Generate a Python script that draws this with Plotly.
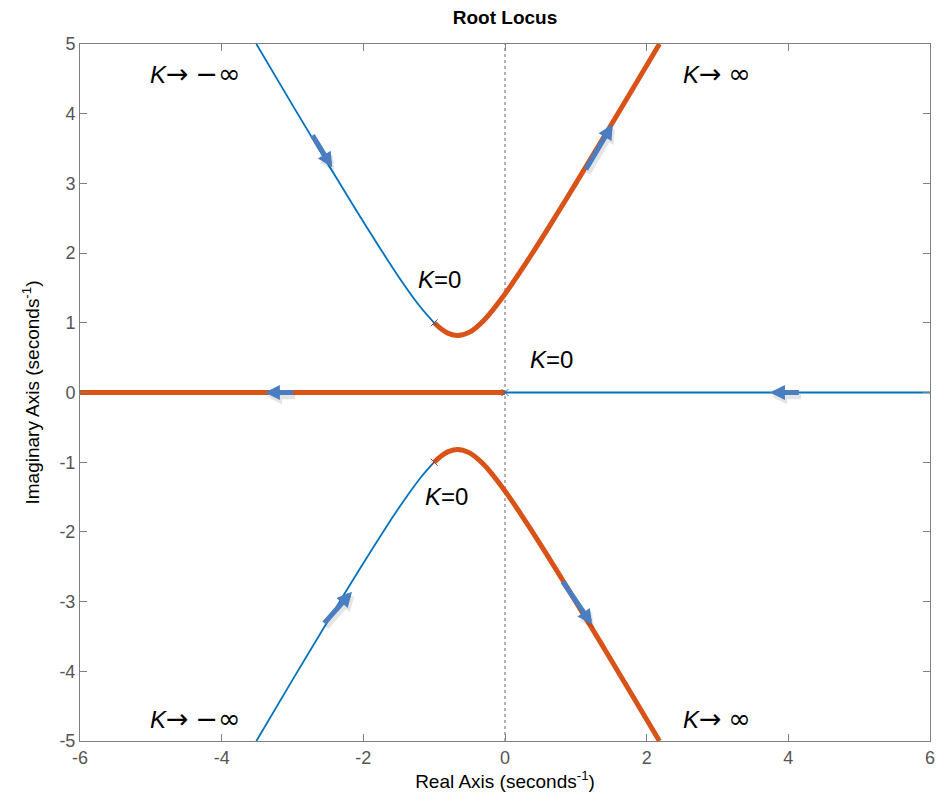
import plotly.graph_objects as go

# Upper complex branch, K>0 (orange)
pos_up_x = [-1.0, -0.9, -0.8, -0.67, -0.5, -0.3, 0.0, 0.3, 0.6, 1.0, 1.4, 1.8, 2.18]
pos_up_y = [1.0, 0.911, 0.849, 0.816, 0.866, 1.034, 1.414, 1.863, 2.341, 3.0, 3.672, 4.35, 5.0]
# Upper complex branch, K<0 (blue)
neg_up_x = [-1.0, -1.2, -1.5, -2.0, -2.5, -3.0, -3.51]
neg_up_y = [1.0, 1.233, 1.658, 2.449, 3.279, 4.123, 5.0]
# Real-axis branches
pos_real_x = [0.0, -6.0]
neg_real_x = [0.0, 6.0]
# Open-loop poles
pole_x = [-1.0, 0.0, -1.0]
pole_y = [1.0, 0.0, -1.0]

# Direction arrows (tail -> head)
arrows = [
    ((-2.73, 3.71), (-2.44, 3.23)),
    ((1.13, 3.18), (1.52, 3.85)),
    ((-2.97, 0.0), (-3.39, 0.0)),
    ((4.17, 0.0), (3.74, 0.0)),
    ((-2.57, -3.33), (-2.16, -2.86)),
    ((0.80, -2.69), (1.23, -3.33)),
]

SYM = '<span style="font-family:DejaVu Sans;font-size:27px">{}</span>'
ARW = SYM.format("\u2192")
NINF = SYM.format("\u2212\u221e")
PINF = SYM.format("\u221e")
# Labels
labels = [
    (-4.37, 4.57, "<i>K</i>" + ARW + " " + NINF),
    (2.99, 4.57, "<i>K</i>" + ARW + " " + PINF),
    (-4.37, -4.67, "<i>K</i>" + ARW + " " + NINF),
    (2.99, -4.67, "<i>K</i>" + ARW + " " + PINF),
    (-0.92, 1.62, "<i>K</i>=0"),
    (0.66, 0.47, "<i>K</i>=0"),
    (-0.82, -1.49, "<i>K</i>=0"),
]

BLUE = "#0072BD"
ORANGE = "#D95319"

fig = go.Figure()

# zero line (dotted)
fig.add_trace(go.Scatter(x=[0, 0], y=[-5, 5], mode="lines",
                         line=dict(color="#666666", width=1, dash="dot"),
                         hoverinfo="skip", showlegend=False))

# blue (K<0)
fig.add_trace(go.Scatter(x=neg_up_x, y=neg_up_y, mode="lines", line=dict(color=BLUE, width=1.8, shape="spline"), showlegend=False))
fig.add_trace(go.Scatter(x=neg_up_x, y=[-v for v in neg_up_y], mode="lines", line=dict(color=BLUE, width=1.8, shape="spline"), showlegend=False))
fig.add_trace(go.Scatter(x=neg_real_x, y=[0, 0], mode="lines", line=dict(color=BLUE, width=1.8), showlegend=False))

# orange (K>0)
fig.add_trace(go.Scatter(x=pos_up_x, y=pos_up_y, mode="lines", line=dict(color=ORANGE, width=5, shape="spline"), showlegend=False))
fig.add_trace(go.Scatter(x=pos_up_x, y=[-v for v in pos_up_y], mode="lines", line=dict(color=ORANGE, width=5, shape="spline"), showlegend=False))
fig.add_trace(go.Scatter(x=pos_real_x, y=[0, 0], mode="lines", line=dict(color=ORANGE, width=5), showlegend=False))

# poles
fig.add_trace(go.Scatter(x=pole_x, y=pole_y, mode="markers",
                         marker=dict(symbol="x-thin", size=7, line=dict(width=1, color=["#3a5f9a", "#3a5f9a", "#b03a2e"])),
                         showlegend=False))

for (tx, ty), (hx, hy) in arrows:
    # soft shadow
    fig.add_annotation(x=hx + 0.03, y=hy - 0.06, ax=tx + 0.03, ay=ty - 0.06, xref="x", yref="y", axref="x", ayref="y",
                       showarrow=True, arrowhead=2, arrowsize=0.6, arrowwidth=5, arrowcolor="rgba(0,0,0,0.10)", text="")
    fig.add_annotation(x=hx, y=hy, ax=tx, ay=ty, xref="x", yref="y", axref="x", ayref="y",
                       showarrow=True, arrowhead=2, arrowsize=0.6, arrowwidth=5, arrowcolor="#4A7EC0", text="")

for lx, ly, t in labels:
    fig.add_annotation(x=lx, y=ly, text=t, showarrow=False, xref="x", yref="y",
                       font=dict(family="Liberation Sans, Arial", size=24, color="black"))

axis_common = dict(showgrid=False, zeroline=False, showline=True, linecolor="#808080", linewidth=1,
                   mirror="ticks", ticks="inside", ticklen=7, tickcolor="#808080", automargin=False,
                   tickfont=dict(family="Liberation Sans, Arial", size=18, color="#555555"))

fig.update_xaxes(range=[-6, 6], tickvals=[-6, -4, -2, 0, 2, 4, 6], ticktext=["-6", "-4", "-2", "0", "2", "4", "6"],
                 title=dict(text="Real Axis (seconds<sup>-1</sup>)", font=dict(family="Liberation Sans, Arial", size=19, color="black"), standoff=8),
                 **axis_common)
fig.update_yaxes(range=[-5, 5], tickvals=[-5, -4, -3, -2, -1, 0, 1, 2, 3, 4, 5],
                 ticktext=["-5", "-4", "-3", "-2", "-1", "0", "1", "2", "3", "4", "5"],
                 title=dict(text="Imaginary Axis (seconds<sup>-1</sup>)", font=dict(family="Liberation Sans, Arial", size=19, color="black"), standoff=14),
                 **axis_common)

fig.update_layout(
    width=944, height=808,
    margin=dict(l=80, r=14, t=44, b=67),
    plot_bgcolor="white", paper_bgcolor="white",
    title=dict(text="<b>Root Locus</b>", x=0.535, xanchor="center", y=0.978, yanchor="middle",
               font=dict(family="Liberation Sans, Arial", size=19, color="black")),
)

fig.write_html("out.html")
